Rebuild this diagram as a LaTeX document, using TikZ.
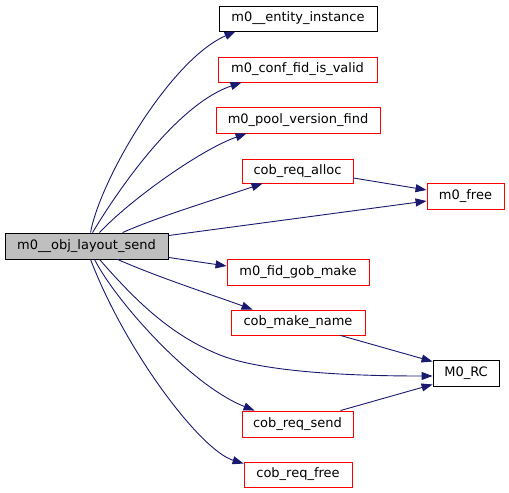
\documentclass[tikz,border=0pt]{standalone}
\usepackage{fontspec}
\setmainfont{DejaVu Sans}
\usetikzlibrary{arrows.meta,calc}
\definecolor{edgeblue}{HTML}{191970}
\definecolor{mainfill}{HTML}{BFBFBF}
\begin{document}
\begin{tikzpicture}[x=1bp,y=-1bp,
  fn/.style={draw=red,line width=0.9bp,fill=white,minimum height=25bp,inner sep=0pt,font=\fontsize{13bp}{15bp}\selectfont},
  fnblack/.style={fn,draw=black},
  fnmain/.style={fn,draw=black,fill=mainfill},
  edge/.style={draw=edgeblue,line width=0.9bp,-{Triangle[length=11bp,width=8bp]}}]
\useasboundingbox (0,0) rectangle (509,493);
\node[fnmain,minimum width=163bp,minimum height=26bp] (main) at (86.5,246) {m0\_\_obj\_layout\_send};
\node[fnblack,minimum width=158bp] (ent) at (298,18.5) {m0\_\_entity\_instance};
\node[fn,minimum width=159bp] (conf) at (297.5,69.5) {m0\_conf\_fid\_is\_valid};
\node[fn,minimum width=164bp,minimum height=26bp] (pool) at (298,120) {m0\_pool\_version\_find};
\node[fn,minimum width=111bp,minimum height=24bp] (alloc) at (297.5,171) {cob\_req\_alloc};
\node[fn,minimum width=77bp,minimum height=26bp] (free) at (465.5,196) {m0\_free};
\node[fn,minimum width=142bp,minimum height=26bp] (fid) at (298,272) {m0\_fid\_gob\_make};
\node[fn,minimum width=134bp] (name) at (298,322.5) {cob\_make\_name};
\node[fnblack,minimum width=66bp,minimum height=26bp] (rc) at (466,373) {M0\_RC};
\node[fn,minimum width=111bp,minimum height=26bp] (send) at (297.5,424) {cob\_req\_send};
\node[fn,minimum width=108bp] (rfree) at (298,474.5) {cob\_req\_free};

\draw[edge] ($(main.north west)+(86,0)$) .. controls (100,180) and (170,60) .. ($(ent.south west)+(17,0)$);
\draw[edge] ($(main.north west)+(88,0)$) .. controls (115,195) and (175,105) .. ($(conf.south west)+(24,0)$);
\draw[edge] ($(main.north west)+(95,0)$) .. controls (130,200) and (200,150) .. ($(pool.south west)+(31,0)$);
\draw[edge] ($(main.north west)+(118,0)$) .. controls (160,216) and (220,198) .. ($(alloc.south west)+(21,0)$);
\draw[edge] ($(main.north east)+(0,3)$) -- ($(free.west)+(0,5)$);
\draw[edge] ($(alloc.east)+(0,7)$) -- ($(free.west)+(0,-6)$);
\draw[edge] ($(main.south east)+(0,-2)$) -- ($(fid.west)+(0,-6)$);
\draw[edge] ($(main.south west)+(113,0)$) .. controls (160,278) and (210,294) .. ($(name.north west)+(22,0)$);
\draw[edge] ($(main.south west)+(95,0)$) .. controls (135,300) and (170,335) .. (220,355) .. controls (270,375) and (380,376) .. ($(rc.west)+(0,3)$);
\draw[edge] ($(main.south west)+(90,0)$) .. controls (115,300) and (190,385) .. ($(send.north west)+(13,0)$);
\draw[edge] ($(main.south west)+(86,0)$) .. controls (125,350) and (200,450) .. ($(rfree.north west)+(0,2)$);
\draw[edge] ($(name.south east)+(-25,0)$) -- ($(rc.north west)+(0,2)$);
\draw[edge] ($(send.north east)+(-13,0)$) -- ($(rc.south west)+(0,-2)$);
\end{tikzpicture}
\end{document}
